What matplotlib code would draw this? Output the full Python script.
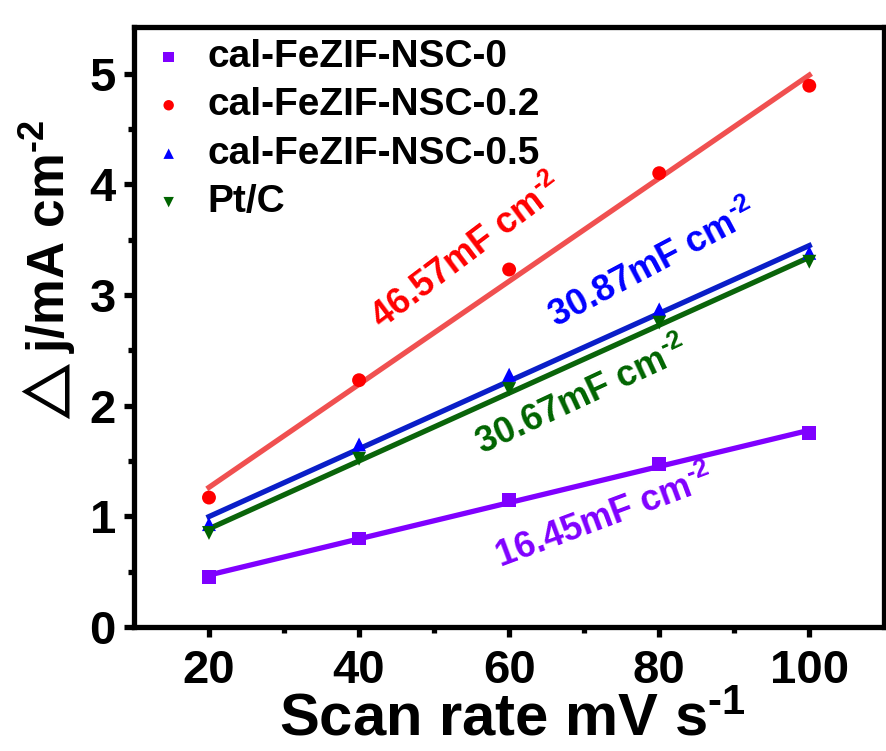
import numpy as np
import matplotlib
matplotlib.use('Agg')
import matplotlib.pyplot as plt

plt.rcParams['font.family'] = ['Liberation Sans', 'DejaVu Sans']
plt.rcParams['font.weight'] = 'bold'
plt.rcParams['mathtext.fontset'] = 'custom'
plt.rcParams['mathtext.rm'] = 'Liberation Sans:bold'
plt.rcParams['mathtext.bf'] = 'Liberation Sans:bold'
plt.rcParams['mathtext.it'] = 'Liberation Sans:bold:italic'
plt.rcParams['mathtext.default'] = 'bf'

scan_rate = [20, 40, 60, 80, 100]
nsc0 = [0.45, 0.80, 1.15, 1.47, 1.75]
nsc02 = [1.17, 2.23, 3.23, 4.10, 4.89]
nsc05 = [0.93, 1.65, 2.28, 2.87, 3.38]
ptc = [0.85, 1.52, 2.15, 2.75, 3.30]

labels = ['cal-FeZIF-NSC-0', 'cal-FeZIF-NSC-0.2', 'cal-FeZIF-NSC-0.5', 'Pt/C']
sup = r'$^{\text{-}2}$'
cdl_texts = ['16.45mF cm' + sup, '46.57mF cm' + sup, '30.87mF cm' + sup, '30.67mF cm' + sup]

fig = plt.figure(figsize=(8.87, 7.51), dpi=100)
ax = fig.add_axes([0.151, 0.165, 0.846, 0.799])

series = [nsc0, nsc02, nsc05, ptc]
markers = ['s', 'o', '^', 'v']
pt_colors = ['#7f00ff', '#ff0000', '#0000ff', '#006400']
ln_colors = ['#8000ff', '#f05050', '#0a1ec8', '#0a640a']

x = np.array(scan_rate)
for ys, m, pc, lc, lab in zip(series, markers, pt_colors, ln_colors, labels):
    k, b = np.polyfit(x, ys, 1)
    ax.plot(x, k * x + b, color=lc, lw=3.8, zorder=2)
    ax.scatter(x, ys, marker=m, color=pc, s=100, zorder=3, label=lab, edgecolor='none')

# slope labels
ax.text(54.5, 3.38, cdl_texts[1], color='#ff0000', fontsize=26, rotation=37,
        ha='center', va='center', rotation_mode='anchor')
ax.text(79.2, 3.27, cdl_texts[2], color='#0000ff', fontsize=26, rotation=28,
        ha='center', va='center', rotation_mode='anchor')
ax.text(69.7, 2.08, cdl_texts[3], color='#006400', fontsize=26, rotation=25,
        ha='center', va='center', rotation_mode='anchor')
ax.text(72.8, 0.98, cdl_texts[0], color='#8000ff', fontsize=26, rotation=20.5,
        ha='center', va='center', rotation_mode='anchor')

ax.set_xlim(10, 110)
ax.set_ylim(0, 5.42)
ax.set_xticks([20, 40, 60, 80, 100])
ax.set_xticks([30, 50, 70, 90], minor=True)
ax.set_yticks([0, 1, 2, 3, 4, 5])
ax.set_yticks([0.5, 1.5, 2.5, 3.5, 4.5], minor=True)

for sp in ax.spines.values():
    sp.set_linewidth(3.8)
ax.tick_params(which='major', direction='out', length=7, width=3.8, labelsize=34, pad=6)
ax.tick_params(axis='x', which='major', pad=9)
ax.tick_params(which='minor', direction='out', length=4, width=3.8)
for t in ax.get_xticklabels() + ax.get_yticklabels():
    t.set_fontweight('bold')
    t.set_family(['Liberation Sans Narrow', 'Liberation Sans'])

ax.set_xlabel('Scan rate mV s$^{\\text{-}1}$', fontsize=43, fontweight='bold')
ax.set_ylabel('$\\triangle$j/mA cm' + sup, fontsize=37, fontweight='bold')
ax.xaxis.set_label_coords(0.505, -0.11)
ax.yaxis.set_label_coords(-0.075, 0.587)

leg = ax.legend(loc='upper left', bbox_to_anchor=(0.01, 0.993), frameon=False, fontsize=28,
                handletextpad=0.5, borderaxespad=0.0, borderpad=0.2, labelspacing=0.32,
                markerscale=0.75, handlelength=1.0)
for t in leg.get_texts():
    t.set_fontweight('bold')

plt.savefig('out.png', dpi=100)
